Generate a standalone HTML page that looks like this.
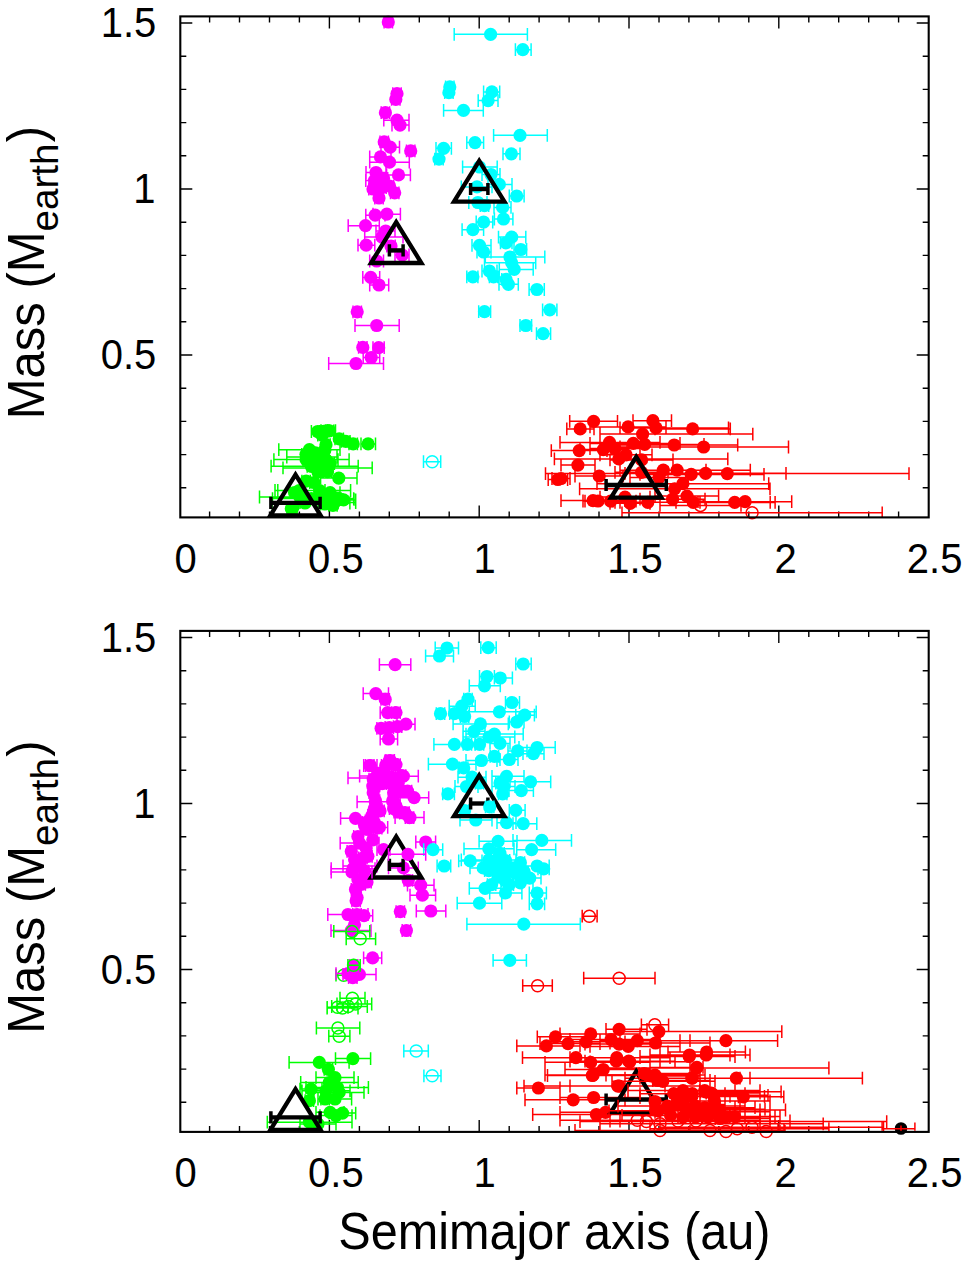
<!DOCTYPE html>
<html><head><meta charset="utf-8"><title>Mass vs semimajor axis</title>
<style>html,body{margin:0;padding:0;background:#fff}svg{display:block}text{font-family:"Liberation Sans",sans-serif;font-size:40px;fill:#000}.al{font-size:49px}</style></head><body>
<svg width="968" height="1268" viewBox="0 0 968 1268">
<rect width="968" height="1268" fill="#fff"/>
<defs><clipPath id="ct"><rect x="180.3" y="16.4" width="748.4" height="501"/></clipPath><clipPath id="cb"><rect x="180.3" y="630.9" width="748.4" height="501"/></clipPath></defs>
<g id="top">
<path d="M209.6 517.4v-6M209.6 16.4v6M239.5 517.4v-6M239.5 16.4v6M269.5 517.4v-6M269.5 16.4v6M299.4 517.4v-6M299.4 16.4v6M329.4 517.4v-12M329.4 16.4v12M359.4 517.4v-6M359.4 16.4v6M389.3 517.4v-6M389.3 16.4v6M419.3 517.4v-6M419.3 16.4v6M449.2 517.4v-6M449.2 16.4v6M479.2 517.4v-12M479.2 16.4v12M509.2 517.4v-6M509.2 16.4v6M539.1 517.4v-6M539.1 16.4v6M569.1 517.4v-6M569.1 16.4v6M599 517.4v-6M599 16.4v6M629 517.4v-12M629 16.4v12M659 517.4v-6M659 16.4v6M688.9 517.4v-6M688.9 16.4v6M718.9 517.4v-6M718.9 16.4v6M748.8 517.4v-6M748.8 16.4v6M778.8 517.4v-12M778.8 16.4v12M808.8 517.4v-6M808.8 16.4v6M838.7 517.4v-6M838.7 16.4v6M868.7 517.4v-6M868.7 16.4v6M898.6 517.4v-6M898.6 16.4v6M180.3 487.8h6M928.7 487.8h-6M180.3 454.6h6M928.7 454.6h-6M180.3 421.4h6M928.7 421.4h-6M180.3 388.2h6M928.7 388.2h-6M180.3 355h12M928.7 355h-12M180.3 321.8h6M928.7 321.8h-6M180.3 288.6h6M928.7 288.6h-6M180.3 255.4h6M928.7 255.4h-6M180.3 222.2h6M928.7 222.2h-6M180.3 189h12M928.7 189h-12M180.3 155.8h6M928.7 155.8h-6M180.3 122.6h6M928.7 122.6h-6M180.3 89.4h6M928.7 89.4h-6M180.3 56.2h6M928.7 56.2h-6M180.3 23h12M928.7 23h-12" stroke="#000" stroke-width="1.4" fill="none"/>
<path clip-path="url(#ct)" d="M311.4 431.5H324M311.4 425.1v12.8M324 425.1v12.8M321 430.7H335.5M321 424.3v12.8M335.5 424.3v12.8M317.8 435H326.2M317.8 428.6v12.8M326.2 428.6v12.8M335 438.9H343.4M335 432.5v12.8M343.4 432.5v12.8M341.6 441.4H350M341.6 435v12.8M350 435v12.8M349 443.9H357.4M349 437.5v12.8M357.4 437.5v12.8M361 443.9H375.5M361 437.5v12.8M375.5 437.5v12.8M321.8 444.7H330.2M321.8 438.3v12.8M330.2 438.3v12.8M278.8 449.7H340M278.8 443.3v12.8M340 443.3v12.8M273.9 459.6H338M273.9 453.2v12.8M338 453.2v12.8M286.8 457H337M286.8 450.6v12.8M337 450.6v12.8M303 459.6H349.1M303 453.2v12.8M349.1 453.2v12.8M271.1 466.2H358.2M271.1 459.8v12.8M358.2 459.8v12.8M283 467.9H372.2M283 461.5v12.8M372.2 461.5v12.8M313.8 472H322.2M313.8 465.6v12.8M322.2 465.6v12.8M320.6 478.1H357M320.6 471.7v12.8M357 471.7v12.8M301.9 481.1H310.3M301.9 474.7v12.8M310.3 474.7v12.8M290.3 492.6H298.7M290.3 486.2v12.8M298.7 486.2v12.8M320 492.6H340M320 486.2v12.8M340 486.2v12.8M315.8 494H324.2M315.8 487.6v12.8M324.2 487.6v12.8M327 499.3H354M327 492.9v12.8M354 492.9v12.8M259.5 497H340M259.5 490.6v12.8M340 490.6v12.8M288.7 507.5H297.1M288.7 501.1v12.8M297.1 501.1v12.8M300 502.6H355.7M300 496.2v12.8M355.7 496.2v12.8M318 503H349.9M318 496.6v12.8M349.9 496.6v12.8M272 503H338M272 496.6v12.8M338 496.6v12.8M311.2 452.9H319.6M311.2 446.5v12.8M319.6 446.5v12.8M309.9 462.3H318.3M309.9 455.9v12.8M318.3 455.9v12.8M323.3 471.7H331.7M323.3 465.3v12.8M331.7 465.3v12.8M318 465H326.4M318 458.6v12.8M326.4 458.6v12.8M326 463.7H334.4M326 457.3v12.8M334.4 457.3v12.8M301.8 454.3H310.2M301.8 447.9v12.8M310.2 447.9v12.8M320.6 450.2H329M320.6 443.8v12.8M329 443.8v12.8M313.9 458.3H322.3M313.9 451.9v12.8M322.3 451.9v12.8M307.2 466.3H315.6M307.2 459.9v12.8M315.6 459.9v12.8M319.3 431.4H327.7M319.3 425v12.8M327.7 425v12.8M325.3 430.8H333.7M325.3 424.4v12.8M333.7 424.4v12.8M275 490.5H325M275 484.1v12.8M325 484.1v12.8M277.8 490.5H350.6M277.8 484.1v12.8M350.6 484.1v12.8M320.6 504H329M320.6 497.6v12.8M329 497.6v12.8M328.7 505.3H337.1M328.7 498.9v12.8M337.1 498.9v12.8M272.5 498.6H353.7M272.5 492.2v12.8M353.7 492.2v12.8M330 499.9H355.7M330 493.5v12.8M355.7 493.5v12.8M309.8 482.5H318.2M309.8 476.1v12.8M318.2 476.1v12.8M287.1 508.7H295.5M287.1 502.3v12.8M295.5 502.3v12.8M332.7 498.6H341.1M332.7 492.2v12.8M341.1 492.2v12.8" fill="none" stroke="#00ff00" stroke-width="1.5"/>
<g fill="#00ff00"><circle cx="317.7" cy="431.5" r="6.6"/><circle cx="327.6" cy="430.7" r="6.6"/><circle cx="322" cy="435" r="6.6"/><circle cx="339.2" cy="438.9" r="6.6"/><circle cx="345.8" cy="441.4" r="6.6"/><circle cx="353.2" cy="443.9" r="6.6"/><circle cx="368.1" cy="443.9" r="6.6"/><circle cx="326" cy="444.7" r="6.6"/><circle cx="309.4" cy="449.7" r="6.6"/><circle cx="306.1" cy="459.6" r="6.6"/><circle cx="312" cy="457" r="6.6"/><circle cx="326" cy="459.6" r="6.6"/><circle cx="316" cy="466.2" r="6.6"/><circle cx="327.6" cy="467.9" r="6.6"/><circle cx="318" cy="472" r="6.6"/><circle cx="338.8" cy="478.1" r="6.6"/><circle cx="306.1" cy="481.1" r="6.6"/><circle cx="294.5" cy="492.6" r="6.6"/><circle cx="330.1" cy="492.6" r="6.6"/><circle cx="320" cy="494" r="6.6"/><circle cx="340.8" cy="499.3" r="6.6"/><circle cx="300" cy="497" r="6.6"/><circle cx="292.9" cy="507.5" r="6.6"/><circle cx="327.6" cy="502.6" r="6.6"/><circle cx="334" cy="503" r="6.6"/><circle cx="305" cy="503" r="6.6"/><circle cx="315.4" cy="452.9" r="6.6"/><circle cx="314.1" cy="462.3" r="6.6"/><circle cx="327.5" cy="471.7" r="6.6"/><circle cx="322.2" cy="465" r="6.6"/><circle cx="330.2" cy="463.7" r="6.6"/><circle cx="306" cy="454.3" r="6.6"/><circle cx="324.8" cy="450.2" r="6.6"/><circle cx="318.1" cy="458.3" r="6.6"/><circle cx="311.4" cy="466.3" r="6.6"/><circle cx="323.5" cy="431.4" r="6.6"/><circle cx="329.5" cy="430.8" r="6.6"/><circle cx="299.3" cy="490.5" r="6.6"/><circle cx="319.5" cy="490.5" r="6.6"/><circle cx="324.8" cy="504" r="6.6"/><circle cx="332.9" cy="505.3" r="6.6"/><circle cx="311.4" cy="498.6" r="6.6"/><circle cx="343.6" cy="499.9" r="6.6"/><circle cx="314" cy="482.5" r="6.6"/><circle cx="291.3" cy="508.7" r="6.6"/><circle cx="336.9" cy="498.6" r="6.6"/></g>
<path clip-path="url(#ct)" d="M384.1 22H392.5M384.1 15.6v12.8M392.5 15.6v12.8M392.8 93.7H401.2M392.8 87.3v12.8M401.2 87.3v12.8M391.6 99.4H400M391.6 93v12.8M400 93v12.8M381.2 112.7H389.6M381.2 106.3v12.8M389.6 106.3v12.8M383.8 120.2H409M383.8 113.8v12.8M409 113.8v12.8M392 125.1H409M392 118.7v12.8M409 118.7v12.8M380 141.9H388.4M380 135.5v12.8M388.4 135.5v12.8M381 147.2H399.5M381 140.8v12.8M399.5 140.8v12.8M406.5 150.9H414.9M406.5 144.5v12.8M414.9 144.5v12.8M369.7 156.9H391M369.7 150.5v12.8M391 150.5v12.8M369.7 162.2H409.3M369.7 155.8v12.8M409.3 155.8v12.8M386.6 174.9H410.4M386.6 168.5v12.8M410.4 168.5v12.8M366 172.5H386M366 166.1v12.8M386 166.1v12.8M365.8 180.5H383M365.8 174.1v12.8M383 174.1v12.8M379.3 178.5H387.7M379.3 172.1v12.8M387.7 172.1v12.8M368.8 189H377.2M368.8 182.6v12.8M377.2 182.6v12.8M377.8 187.5H386.2M377.8 181.1v12.8M386.2 181.1v12.8M385.3 186H393.7M385.3 179.6v12.8M393.7 179.6v12.8M390.5 192.8H398.9M390.5 186.4v12.8M398.9 186.4v12.8M374.8 198H383.2M374.8 191.6v12.8M383.2 191.6v12.8M365.8 215.2H385M365.8 208.8v12.8M385 208.8v12.8M373 214.2H400.4M373 207.8v12.8M400.4 207.8v12.8M348.2 225.7H379.3M348.2 219.3v12.8M379.3 219.3v12.8M376 231H395M376 224.6v12.8M395 224.6v12.8M364.7 237H403M364.7 230.6v12.8M403 230.6v12.8M358 245.2H374.8M358 238.8v12.8M374.8 238.8v12.8M386.8 246H395.2M386.8 239.6v12.8M395.2 239.6v12.8M395 255H409M395 248.6v12.8M409 248.6v12.8M369.7 261H383.5M369.7 254.6v12.8M383.5 254.6v12.8M362.8 277.4H379.7M362.8 271v12.8M379.7 271v12.8M369.7 285H388.7M369.7 278.6v12.8M388.7 278.6v12.8M353 311.8H361.4M353 305.4v12.8M361.4 305.4v12.8M355 325.5H399.2M355 319.1v12.8M399.2 319.1v12.8M358.6 347.4H367M358.6 341v12.8M367 341v12.8M373 347.7H384.2M373 341.3v12.8M384.2 341.3v12.8M363.2 357.5H379.7M363.2 351.1v12.8M379.7 351.1v12.8M328.7 363.5H383.5M328.7 357.1v12.8M383.5 357.1v12.8" fill="none" stroke="#ff00ff" stroke-width="1.5"/>
<g fill="#ff00ff"><circle cx="388.3" cy="22" r="6.6"/><circle cx="397" cy="93.7" r="6.6"/><circle cx="395.8" cy="99.4" r="6.6"/><circle cx="385.4" cy="112.7" r="6.6"/><circle cx="397" cy="120.2" r="6.6"/><circle cx="400" cy="125.1" r="6.6"/><circle cx="384.2" cy="141.9" r="6.6"/><circle cx="390.2" cy="147.2" r="6.6"/><circle cx="410.7" cy="150.9" r="6.6"/><circle cx="380.5" cy="156.9" r="6.6"/><circle cx="389.5" cy="162.2" r="6.6"/><circle cx="398.5" cy="174.9" r="6.6"/><circle cx="376" cy="172.5" r="6.6"/><circle cx="374.5" cy="180.5" r="6.6"/><circle cx="383.5" cy="178.5" r="6.6"/><circle cx="373" cy="189" r="6.6"/><circle cx="382" cy="187.5" r="6.6"/><circle cx="389.5" cy="186" r="6.6"/><circle cx="394.7" cy="192.8" r="6.6"/><circle cx="379" cy="198" r="6.6"/><circle cx="375.2" cy="215.2" r="6.6"/><circle cx="386.8" cy="214.2" r="6.6"/><circle cx="365.5" cy="225.7" r="6.6"/><circle cx="385.7" cy="231" r="6.6"/><circle cx="382" cy="237" r="6.6"/><circle cx="366.2" cy="245.2" r="6.6"/><circle cx="391" cy="246" r="6.6"/><circle cx="402.2" cy="255" r="6.6"/><circle cx="376.7" cy="261" r="6.6"/><circle cx="370.7" cy="277.4" r="6.6"/><circle cx="379" cy="285" r="6.6"/><circle cx="357.2" cy="311.8" r="6.6"/><circle cx="376.7" cy="325.5" r="6.6"/><circle cx="362.8" cy="347.4" r="6.6"/><circle cx="378.7" cy="347.7" r="6.6"/><circle cx="371.2" cy="357.5" r="6.6"/><circle cx="356" cy="363.5" r="6.6"/></g>
<path clip-path="url(#ct)" d="M454.2 34.3H527.4M454.2 27.9v12.8M527.4 27.9v12.8M515.4 49.7H531.1M515.4 43.3v12.8M531.1 43.3v12.8M445.6 86.9H454M445.6 80.5v12.8M454 80.5v12.8M444.7 92.7H453.1M444.7 86.3v12.8M453.1 86.3v12.8M483.6 91.9H499.7M483.6 85.5v12.8M499.7 85.5v12.8M478.2 100.6H498M478.2 94.2v12.8M498 94.2v12.8M443.6 110.4H483.3M443.6 104v12.8M483.3 104v12.8M493.6 135.3H547.3M493.6 128.9v12.8M547.3 128.9v12.8M466.8 142.6H483.6M466.8 136.2v12.8M483.6 136.2v12.8M436 148.3H451.4M436 141.9v12.8M451.4 141.9v12.8M434.8 159.1H443.2M434.8 152.7v12.8M443.2 152.7v12.8M503 153.8H520M503 147.4v12.8M520 147.4v12.8M462.6 167H497.2M462.6 160.6v12.8M497.2 160.6v12.8M482 174.5H500M482 168.1v12.8M500 168.1v12.8M488 184.4H512M488 178v12.8M512 178v12.8M461.3 186.9H492M461.3 180.5v12.8M492 180.5v12.8M509.3 196H524.1M509.3 189.6v12.8M524.1 189.6v12.8M468.8 202.5H487M468.8 196.1v12.8M487 196.1v12.8M480.3 205.7H488.7M480.3 199.3v12.8M488.7 199.3v12.8M494 207.4H511M494 201v12.8M511 201v12.8M476.2 222H492.7M476.2 215.6v12.8M492.7 215.6v12.8M494.4 219H512.9M494.4 212.6v12.8M512.9 212.6v12.8M462.1 229.7H483.6M462.1 223.3v12.8M483.6 223.3v12.8M498.5 237.1H525.8M498.5 230.7v12.8M525.8 230.7v12.8M500.5 242.9H512M500.5 236.5v12.8M512 236.5v12.8M472 245.4H491M472 239v12.8M491 239v12.8M477 252H491M477 245.6v12.8M491 245.6v12.8M514 249.5H526.6M514 243.1v12.8M526.6 243.1v12.8M485.3 257H544.8M485.3 250.6v12.8M544.8 250.6v12.8M484.5 262.8H535.7M484.5 256.4v12.8M535.7 256.4v12.8M499.3 269.4H533.2M499.3 263v12.8M533.2 263v12.8M482 271H497M482 264.6v12.8M497 264.6v12.8M489.4 276.8H497.8M489.4 270.4v12.8M497.8 270.4v12.8M466.8 276.8H477.9M466.8 270.4v12.8M477.9 270.4v12.8M501.8 279.3H510.2M501.8 272.9v12.8M510.2 272.9v12.8M499 284.3H518.3M499 277.9v12.8M518.3 277.9v12.8M529.1 289.5H544.3M529.1 283.1v12.8M544.3 283.1v12.8M478.7 311.7H490.6M478.7 305.3v12.8M490.6 305.3v12.8M542.6 309.8H556.9M542.6 303.4v12.8M556.9 303.4v12.8M520 325.5H531.6M520 319.1v12.8M531.6 319.1v12.8M536.5 333.7H550.6M536.5 327.3v12.8M550.6 327.3v12.8" fill="none" stroke="#00ffff" stroke-width="1.5"/>
<g fill="#00ffff"><circle cx="490.6" cy="34.3" r="6.6"/><circle cx="522.8" cy="49.7" r="6.6"/><circle cx="449.8" cy="86.9" r="6.6"/><circle cx="448.9" cy="92.7" r="6.6"/><circle cx="491.9" cy="91.9" r="6.6"/><circle cx="488.1" cy="100.6" r="6.6"/><circle cx="463.5" cy="110.4" r="6.6"/><circle cx="520" cy="135.3" r="6.6"/><circle cx="475" cy="142.6" r="6.6"/><circle cx="443.6" cy="148.3" r="6.6"/><circle cx="439" cy="159.1" r="6.6"/><circle cx="511.4" cy="153.8" r="6.6"/><circle cx="479.5" cy="167" r="6.6"/><circle cx="491" cy="174.5" r="6.6"/><circle cx="499.3" cy="184.4" r="6.6"/><circle cx="477" cy="186.9" r="6.6"/><circle cx="516.7" cy="196" r="6.6"/><circle cx="477.9" cy="202.5" r="6.6"/><circle cx="484.5" cy="205.7" r="6.6"/><circle cx="502.6" cy="207.4" r="6.6"/><circle cx="483.6" cy="222" r="6.6"/><circle cx="503.5" cy="219" r="6.6"/><circle cx="472.9" cy="229.7" r="6.6"/><circle cx="511.7" cy="237.1" r="6.6"/><circle cx="505.9" cy="242.9" r="6.6"/><circle cx="479.5" cy="245.4" r="6.6"/><circle cx="483.6" cy="252" r="6.6"/><circle cx="520.8" cy="249.5" r="6.6"/><circle cx="510" cy="257" r="6.6"/><circle cx="511.7" cy="262.8" r="6.6"/><circle cx="514.2" cy="269.4" r="6.6"/><circle cx="489.4" cy="271" r="6.6"/><circle cx="493.6" cy="276.8" r="6.6"/><circle cx="472.9" cy="276.8" r="6.6"/><circle cx="506" cy="279.3" r="6.6"/><circle cx="508.4" cy="284.3" r="6.6"/><circle cx="536.9" cy="289.5" r="6.6"/><circle cx="484.5" cy="311.7" r="6.6"/><circle cx="549.8" cy="309.8" r="6.6"/><circle cx="525.8" cy="325.5" r="6.6"/><circle cx="543.1" cy="333.7" r="6.6"/></g>
<path clip-path="url(#ct)" d="M423.5 461.7H440.7M423.5 455.3v12.8M440.7 455.3v12.8" fill="none" stroke="#00ffff" stroke-width="1.5"/>
<g fill="none" stroke="#00ffff" stroke-width="1.5"><circle cx="432.2" cy="461.7" r="6.0"/></g>
<path clip-path="url(#ct)" d="M569.7 421.3H617.5M569.7 414.9v12.8M617.5 414.9v12.8M566.8 428.9H594M566.8 422.5v12.8M594 422.5v12.8M590 426.9H666M590 420.5v12.8M666 420.5v12.8M633 420.7H671.5M633 414.3v12.8M671.5 414.3v12.8M620 427.9H728.5M620 421.5v12.8M728.5 421.5v12.8M655 428.9H730.3M655 422.5v12.8M730.3 422.5v12.8M600 434.1H752.8M600 427.7v12.8M752.8 427.7v12.8M560 442.4H660M560 436v12.8M660 436v12.8M590 443.4H680M590 437v12.8M680 437v12.8M600 444.4H704M600 438v12.8M704 438v12.8M610 445H737.7M610 438.6v12.8M737.7 438.6v12.8M620 447H788.5M620 440.6v12.8M788.5 440.6v12.8M551.3 450.6H607M551.3 444.2v12.8M607 444.2v12.8M580 449.6H627M580 443.2v12.8M627 443.2v12.8M590 448.6H640M590 442.2v12.8M640 442.2v12.8M554.4 458.9H727.8M554.4 452.5v12.8M727.8 452.5v12.8M600 454.8H652M600 448.4v12.8M652 448.4v12.8M561 465.1H595M561 458.7v12.8M595 458.7v12.8M610 459.9H673M610 453.5v12.8M673 453.5v12.8M575 476H623M575 469.6v12.8M623 469.6v12.8M620 470.2H706M620 463.8v12.8M706 463.8v12.8M630 470.2H750.3M630 463.8v12.8M750.3 463.8v12.8M640 474.4H764M640 468v12.8M764 468v12.8M625 473.3H786M625 466.9v12.8M786 466.9v12.8M545.5 473.6H909M545.5 467.2v12.8M909 467.2v12.8M548.2 479.5H567.6M548.2 473.1v12.8M567.6 473.1v12.8M552 478.5H570M552 472.1v12.8M570 472.1v12.8M615 472.3H668M615 465.9v12.8M668 465.9v12.8M630 477.5H688M630 471.1v12.8M688 471.1v12.8M597 483.7H768.7M597 477.3v12.8M768.7 477.3v12.8M579.6 488.8H770M579.6 482.4v12.8M770 482.4v12.8M655 496.1H718.6M655 489.7v12.8M718.6 489.7v12.8M640 499.2H705M640 492.8v12.8M705 492.8v12.8M561 500.6H625M561 494.2v12.8M625 494.2v12.8M583 501H613M583 494.6v12.8M613 494.6v12.8M585 501.2H636M585 494.8v12.8M636 494.8v12.8M600 497.1H650M600 490.7v12.8M650 490.7v12.8M610 503.3H650M610 496.9v12.8M650 496.9v12.8M620 502.3H676M620 495.9v12.8M676 495.9v12.8M615 502.3H770.2M615 495.9v12.8M770.2 495.9v12.8M700 502.4H775.1M700 496v12.8M775.1 496v12.8M698 501.7H791.7M698 495.3v12.8M791.7 495.3v12.8" fill="none" stroke="#ff0000" stroke-width="1.5"/>
<g fill="#ff0000"><circle cx="593.6" cy="421.3" r="6.6"/><circle cx="580.2" cy="428.9" r="6.6"/><circle cx="628.1" cy="426.9" r="6.6"/><circle cx="652.9" cy="420.7" r="6.6"/><circle cx="656" cy="427.9" r="6.6"/><circle cx="692.6" cy="428.9" r="6.6"/><circle cx="642.6" cy="434.1" r="6.6"/><circle cx="609.5" cy="442.4" r="6.6"/><circle cx="633.3" cy="443.4" r="6.6"/><circle cx="644.7" cy="444.4" r="6.6"/><circle cx="674.2" cy="445" r="6.6"/><circle cx="703.6" cy="447" r="6.6"/><circle cx="579.2" cy="450.6" r="6.6"/><circle cx="603.3" cy="449.6" r="6.6"/><circle cx="614.7" cy="448.6" r="6.6"/><circle cx="618.8" cy="458.9" r="6.6"/><circle cx="626.1" cy="454.8" r="6.6"/><circle cx="577.9" cy="465.1" r="6.6"/><circle cx="641.6" cy="459.9" r="6.6"/><circle cx="599.2" cy="476" r="6.6"/><circle cx="663.3" cy="470.2" r="6.6"/><circle cx="677.1" cy="470.2" r="6.6"/><circle cx="691.2" cy="474.4" r="6.6"/><circle cx="705.6" cy="473.3" r="6.6"/><circle cx="727.3" cy="473.6" r="6.6"/><circle cx="557.9" cy="479.5" r="6.6"/><circle cx="561" cy="478.5" r="6.6"/><circle cx="641.6" cy="472.3" r="6.6"/><circle cx="659.1" cy="477.5" r="6.6"/><circle cx="682.9" cy="483.7" r="6.6"/><circle cx="674.6" cy="488.8" r="6.6"/><circle cx="687" cy="496.1" r="6.6"/><circle cx="672.6" cy="499.2" r="6.6"/><circle cx="593" cy="500.6" r="6.6"/><circle cx="598" cy="501" r="6.6"/><circle cx="610.6" cy="501.2" r="6.6"/><circle cx="625" cy="497.1" r="6.6"/><circle cx="630.2" cy="503.3" r="6.6"/><circle cx="647.8" cy="502.3" r="6.6"/><circle cx="693.2" cy="502.3" r="6.6"/><circle cx="734.7" cy="502.4" r="6.6"/><circle cx="745.1" cy="501.7" r="6.6"/></g>
<path clip-path="url(#ct)" d="M660 505.4H741M660 499v12.8M741 499v12.8M622 512.8H882.2M622 506.4v12.8M882.2 506.4v12.8" fill="none" stroke="#ff0000" stroke-width="1.5"/>
<g fill="none" stroke="#ff0000" stroke-width="1.5"><circle cx="700.5" cy="505.4" r="6.0"/><circle cx="752.1" cy="512.8" r="6.0"/></g>
<polygon points="295.5,474.7 270.3,515.5 320.7,515.5" fill="none" stroke="#000" stroke-width="4.3" stroke-linejoin="miter"/><path d="M270.9 502.9H320.1" fill="none" stroke="#000" stroke-width="4.4"/><path d="M270.9 496.8v12.2M320.1 496.8v12.2" fill="none" stroke="#000" stroke-width="3.5"/>
<polygon points="396.2,222.2 371,263 421.4,263" fill="none" stroke="#000" stroke-width="4.3" stroke-linejoin="miter"/><path d="M389.4 250.4H403.1" fill="none" stroke="#000" stroke-width="4.4"/><path d="M389.4 244.3v12.2M403.1 244.3v12.2" fill="none" stroke="#000" stroke-width="3.5"/>
<polygon points="479.2,160.8 454,201.6 504.4,201.6" fill="none" stroke="#000" stroke-width="4.3" stroke-linejoin="miter"/><path d="M470.6 189H487.9" fill="none" stroke="#000" stroke-width="4.4"/><path d="M470.6 182.9v12.2M487.9 182.9v12.2" fill="none" stroke="#000" stroke-width="3.5"/>
<polygon points="636.2,456.8 611,497.6 661.4,497.6" fill="none" stroke="#000" stroke-width="4.3" stroke-linejoin="miter"/><path d="M606.1 485H666.3" fill="none" stroke="#000" stroke-width="4.4"/><path d="M606.1 478.9v12.2M666.3 478.9v12.2" fill="none" stroke="#000" stroke-width="3.5"/>
<rect x="180.3" y="16.4" width="748.4" height="501" fill="none" stroke="#000" stroke-width="2.1"/>
<text transform="translate(185.6 572.8) scale(1 1.06)" text-anchor="middle">0</text>
<text transform="translate(335.9 572.8) scale(1 1.06)" text-anchor="middle">0.5</text>
<text transform="translate(484.7 572.8) scale(1 1.06)" text-anchor="middle">1</text>
<text transform="translate(635 572.8) scale(1 1.06)" text-anchor="middle">1.5</text>
<text transform="translate(785.6 572.8) scale(1 1.06)" text-anchor="middle">2</text>
<text transform="translate(934.6 572.8) scale(1 1.06)" text-anchor="middle">2.5</text>
<text transform="translate(156.3 369.1) scale(1 1.06)" text-anchor="end">0.5</text>
<text transform="translate(155.5 203.1) scale(1 1.06)" text-anchor="end">1</text>
<text transform="translate(156.3 37.1) scale(1 1.06)" text-anchor="end">1.5</text>
<g transform="translate(43.9 419.2) rotate(-90)"><text class="al" transform="scale(1 1.06)">Mass (M</text><text x="187.8" y="14.5" style="font-size:38.5px">earth</text><text class="al" x="277" transform="scale(1 1.06)">)</text></g>
</g>
<g id="bottom">
<path d="M209.6 1131.9v-6M209.6 630.9v6M239.5 1131.9v-6M239.5 630.9v6M269.5 1131.9v-6M269.5 630.9v6M299.4 1131.9v-6M299.4 630.9v6M329.4 1131.9v-12M329.4 630.9v12M359.4 1131.9v-6M359.4 630.9v6M389.3 1131.9v-6M389.3 630.9v6M419.3 1131.9v-6M419.3 630.9v6M449.2 1131.9v-6M449.2 630.9v6M479.2 1131.9v-12M479.2 630.9v12M509.2 1131.9v-6M509.2 630.9v6M539.1 1131.9v-6M539.1 630.9v6M569.1 1131.9v-6M569.1 630.9v6M599 1131.9v-6M599 630.9v6M629 1131.9v-12M629 630.9v12M659 1131.9v-6M659 630.9v6M688.9 1131.9v-6M688.9 630.9v6M718.9 1131.9v-6M718.9 630.9v6M748.8 1131.9v-6M748.8 630.9v6M778.8 1131.9v-12M778.8 630.9v12M808.8 1131.9v-6M808.8 630.9v6M838.7 1131.9v-6M838.7 630.9v6M868.7 1131.9v-6M868.7 630.9v6M898.6 1131.9v-6M898.6 630.9v6M180.3 1102.3h6M928.7 1102.3h-6M180.3 1069.1h6M928.7 1069.1h-6M180.3 1035.9h6M928.7 1035.9h-6M180.3 1002.7h6M928.7 1002.7h-6M180.3 969.5h12M928.7 969.5h-12M180.3 936.3h6M928.7 936.3h-6M180.3 903.1h6M928.7 903.1h-6M180.3 869.9h6M928.7 869.9h-6M180.3 836.7h6M928.7 836.7h-6M180.3 803.5h12M928.7 803.5h-12M180.3 770.3h6M928.7 770.3h-6M180.3 737.1h6M928.7 737.1h-6M180.3 703.9h6M928.7 703.9h-6M180.3 670.7h6M928.7 670.7h-6M180.3 637.5h12M928.7 637.5h-12" stroke="#000" stroke-width="1.4" fill="none"/>
<path clip-path="url(#cb)" d="M336 975.2H351M336 968.8v12.8M351 968.8v12.8" fill="none" stroke="#00ff00" stroke-width="1.5"/>
<g fill="none" stroke="#00ff00" stroke-width="1.5"><circle cx="343.7" cy="975.2" r="6.0"/></g>
<path clip-path="url(#cb)" d="M335.5 1058.6H370.6M335.5 1052.2v12.8M370.6 1052.2v12.8M289.1 1062.4H349.1M289.1 1056v12.8M349.1 1056v12.8M324.2 1069.3H332.6M324.2 1062.9v12.8M332.6 1062.9v12.8M316 1077.6H354M316 1071.2v12.8M354 1071.2v12.8M300.7 1082.5H358.2M300.7 1076.1v12.8M358.2 1076.1v12.8M306 1087.5H368.4M306 1081.1v12.8M368.4 1081.1v12.8M300 1089.1H322M300 1082.7v12.8M322 1082.7v12.8M302 1090.8H350M302 1084.4v12.8M350 1084.4v12.8M314 1092.4H364M314 1086v12.8M364 1086v12.8M318 1099H351.6M318 1092.6v12.8M351.6 1092.6v12.8M320.9 1099H329.3M320.9 1092.6v12.8M329.3 1092.6v12.8M305.2 1100.7H313.6M305.2 1094.3v12.8M313.6 1094.3v12.8M316 1112.3H344M316 1105.9v12.8M344 1105.9v12.8M329 1113.1H355.7M329 1106.7v12.8M355.7 1106.7v12.8M320 1115.6H352M320 1109.2v12.8M352 1109.2v12.8M267.3 1122.2H352M267.3 1115.8v12.8M352 1115.8v12.8M300 1124H336M300 1117.6v12.8M336 1117.6v12.8" fill="none" stroke="#00ff00" stroke-width="1.5"/>
<g fill="#00ff00"><circle cx="352.9" cy="1058.6" r="6.6"/><circle cx="319.3" cy="1062.4" r="6.6"/><circle cx="328.4" cy="1069.3" r="6.6"/><circle cx="335" cy="1077.6" r="6.6"/><circle cx="329.3" cy="1082.5" r="6.6"/><circle cx="337.5" cy="1087.5" r="6.6"/><circle cx="311.1" cy="1089.1" r="6.6"/><circle cx="326" cy="1090.8" r="6.6"/><circle cx="339.2" cy="1092.4" r="6.6"/><circle cx="335" cy="1099" r="6.6"/><circle cx="325.1" cy="1099" r="6.6"/><circle cx="309.4" cy="1100.7" r="6.6"/><circle cx="330.1" cy="1112.3" r="6.6"/><circle cx="342.5" cy="1113.1" r="6.6"/><circle cx="335.9" cy="1115.6" r="6.6"/><circle cx="309.4" cy="1122.2" r="6.6"/><circle cx="318" cy="1124" r="6.6"/></g>
<path clip-path="url(#cb)" d="M379.4 664.7H410.8M379.4 658.3v12.8M410.8 658.3v12.8M363.2 693.6H388.5M363.2 687.2v12.8M388.5 687.2v12.8M381 699.4H389.4M381 693v12.8M389.4 693v12.8M380.2 712.6H395M380.2 706.2v12.8M395 706.2v12.8M391.8 712.6H400.2M391.8 706.2v12.8M400.2 706.2v12.8M397 724.2H415M397 717.8v12.8M415 717.8v12.8M376.9 728.3H385.3M376.9 721.9v12.8M385.3 721.9v12.8M385.1 727.5H393.5M385.1 721.1v12.8M393.5 721.1v12.8M393.4 726.7H401.8M393.4 720.3v12.8M401.8 720.3v12.8M380.2 739H397.6M380.2 732.6v12.8M397.6 732.6v12.8M386 760.5H394.4M386 754.1v12.8M394.4 754.1v12.8M363.7 765.5H377M363.7 759.1v12.8M377 759.1v12.8M391.8 764.6H400.2M391.8 758.2v12.8M400.2 758.2v12.8M348 777.9H404M348 771.5v12.8M404 771.5v12.8M359.6 776H402M359.6 769.6v12.8M402 769.6v12.8M389 776.2H418.3M389 769.8v12.8M418.3 769.8v12.8M376.9 772.9H385.3M376.9 766.5v12.8M385.3 766.5v12.8M385.1 782.8H393.5M385.1 776.4v12.8M393.5 776.4v12.8M368.6 786.1H377M368.6 779.7v12.8M377 779.7v12.8M393.4 789.4H401.8M393.4 783v12.8M401.8 783v12.8M403.3 791.1H411.7M403.3 784.7v12.8M411.7 784.7v12.8M400 797.7H428.7M400 791.3v12.8M428.7 791.3v12.8M357.1 801.8H393M357.1 795.4v12.8M393 795.4v12.8M388.4 801H396.8M388.4 794.6v12.8M396.8 794.6v12.8M391.8 806H400.2M391.8 799.6v12.8M400.2 799.6v12.8M373.6 809.3H382M373.6 802.9v12.8M382 802.9v12.8M400.8 812.6H409.2M400.8 806.2v12.8M409.2 806.2v12.8M395.1 817.5H424M395.1 811.1v12.8M424 811.1v12.8M340.6 818.3H370M340.6 811.9v12.8M370 811.9v12.8M365.3 820.8H373.7M365.3 814.4v12.8M373.7 814.4v12.8M371 827.4H387.7M371 821v12.8M387.7 821v12.8M362 829.1H370.4M362 822.7v12.8M370.4 822.7v12.8M360.3 824.9H368.7M360.3 818.5v12.8M368.7 818.5v12.8M415.8 842H435.6M415.8 835.6v12.8M435.6 835.6v12.8M340.2 843.1H379M340.2 836.7v12.8M379 836.7v12.8M347.1 851.4H355.5M347.1 845v12.8M355.5 845v12.8M362 848H370.4M362 841.6v12.8M370.4 841.6v12.8M358.7 858H367.1M358.7 851.6v12.8M367.1 851.6v12.8M368.6 839.8H377M368.6 833.4v12.8M377 833.4v12.8M377 849.7H390M377 843.3v12.8M390 843.3v12.8M331.2 868.7H375M331.2 862.3v12.8M375 862.3v12.8M343 866H377M343 859.6v12.8M377 859.6v12.8M388.5 867.9H418.3M388.5 861.5v12.8M418.3 861.5v12.8M353.7 879.5H362.1M353.7 873.1v12.8M362.1 873.1v12.8M362.8 882H371.2M362.8 875.6v12.8M371.2 875.6v12.8M404.1 880.3H412.5M404.1 873.9v12.8M412.5 873.9v12.8M407.5 885.2H434M407.5 878.8v12.8M434 878.8v12.8M410 895.2H435.6M410 888.8v12.8M435.6 888.8v12.8M351.3 889.4H359.7M351.3 883v12.8M359.7 883v12.8M352.9 897.6H361.3M352.9 891.2v12.8M361.3 891.2v12.8M351.9 900.8H360.3M351.9 894.4v12.8M360.3 894.4v12.8M396.1 911.6H404.5M396.1 905.2v12.8M404.5 905.2v12.8M416.3 911H445.8M416.3 904.6v12.8M445.8 904.6v12.8M327.8 914.5H368M327.8 908.1v12.8M368 908.1v12.8M352.8 914.5H361.2M352.8 908.1v12.8M361.2 908.1v12.8M355 915.7H372.7M355 909.3v12.8M372.7 909.3v12.8M350.3 924.8H358.7M350.3 918.4v12.8M358.7 918.4v12.8M331 930.6H371M331 924.2v12.8M371 924.2v12.8M402.2 930.5H410.6M402.2 924.1v12.8M410.6 924.1v12.8M363.6 957.9H381.7M363.6 951.5v12.8M381.7 951.5v12.8M349.4 965.3H357.8M349.4 958.9v12.8M357.8 958.9v12.8M336 973.6H360M336 967.2v12.8M360 967.2v12.8M343 974.4H376M343 968v12.8M376 968v12.8M348.6 977.7H357M348.6 971.3v12.8M357 971.3v12.8M384.9 760.9H393.3M384.9 754.5v12.8M393.3 754.5v12.8M389.4 764.3H397.8M389.4 757.9v12.8M397.8 757.9v12.8M381.5 765.5H389.9M381.5 759.1v12.8M389.9 759.1v12.8M365.6 765.5H374M365.6 759.1v12.8M374 759.1v12.8M373.5 773.4H381.9M373.5 767v12.8M381.9 767v12.8M380.3 775.7H388.7M380.3 769.3v12.8M388.7 769.3v12.8M387.2 776.8H395.6M387.2 770.4v12.8M395.6 770.4v12.8M397.4 775.7H405.8M397.4 769.3v12.8M405.8 769.3v12.8M369 779.1H377.4M369 772.7v12.8M377.4 772.7v12.8M371.3 785.9H379.7M371.3 779.5v12.8M379.7 779.5v12.8M378.1 783.6H386.5M378.1 777.2v12.8M386.5 777.2v12.8M389.4 784.8H397.8M389.4 778.4v12.8M397.8 778.4v12.8M394 785.9H402.4M394 779.5v12.8M402.4 779.5v12.8M369 792.7H377.4M369 786.3v12.8M377.4 786.3v12.8M389.4 792.7H397.8M389.4 786.3v12.8M397.8 786.3v12.8M396.3 791.6H404.7M396.3 785.2v12.8M404.7 785.2v12.8M403.1 791.6H411.5M403.1 785.2v12.8M411.5 785.2v12.8M371.3 800.7H379.7M371.3 794.3v12.8M379.7 794.3v12.8M389.4 800.7H397.8M389.4 794.3v12.8M397.8 794.3v12.8M370.1 808.6H378.5M370.1 802.2v12.8M378.5 802.2v12.8M375.8 810.9H384.2M375.8 804.5v12.8M384.2 804.5v12.8M389.4 808.6H397.8M389.4 802.2v12.8M397.8 802.2v12.8M394 812H402.4M394 805.6v12.8M402.4 805.6v12.8M367.8 815.5H376.2M367.8 809.1v12.8M376.2 809.1v12.8M399.7 813.2H408.1M399.7 806.8v12.8M408.1 806.8v12.8M405.3 817.7H413.7M405.3 811.3v12.8M413.7 811.3v12.8M362.2 822.3H370.6M362.2 815.9v12.8M370.6 815.9v12.8M370.1 822.3H378.5M370.1 815.9v12.8M378.5 815.9v12.8M373.5 828H381.9M373.5 821.6v12.8M381.9 821.6v12.8M363.3 829.1H371.7M363.3 822.7v12.8M371.7 822.7v12.8M353.7 836.5H362.1M353.7 830.1v12.8M362.1 830.1v12.8M363.7 856.3H372.1M363.7 849.9v12.8M372.1 849.9v12.8M350.4 859.6H358.8M350.4 853.2v12.8M358.8 853.2v12.8M355.4 864.6H363.8M355.4 858.2v12.8M363.8 858.2v12.8M360.3 871.2H368.7M360.3 864.8v12.8M368.7 864.8v12.8M357 884.4H365.4M357 878v12.8M365.4 878v12.8" fill="none" stroke="#ff00ff" stroke-width="1.5"/>
<g fill="#ff00ff"><circle cx="395.1" cy="664.7" r="6.6"/><circle cx="375.8" cy="693.6" r="6.6"/><circle cx="385.2" cy="699.4" r="6.6"/><circle cx="387.7" cy="712.6" r="6.6"/><circle cx="396" cy="712.6" r="6.6"/><circle cx="405.9" cy="724.2" r="6.6"/><circle cx="381.1" cy="728.3" r="6.6"/><circle cx="389.3" cy="727.5" r="6.6"/><circle cx="397.6" cy="726.7" r="6.6"/><circle cx="388.5" cy="739" r="6.6"/><circle cx="390.2" cy="760.5" r="6.6"/><circle cx="370.3" cy="765.5" r="6.6"/><circle cx="396" cy="764.6" r="6.6"/><circle cx="376.1" cy="777.9" r="6.6"/><circle cx="381" cy="776" r="6.6"/><circle cx="403.4" cy="776.2" r="6.6"/><circle cx="381.1" cy="772.9" r="6.6"/><circle cx="389.3" cy="782.8" r="6.6"/><circle cx="372.8" cy="786.1" r="6.6"/><circle cx="397.6" cy="789.4" r="6.6"/><circle cx="407.5" cy="791.1" r="6.6"/><circle cx="414.1" cy="797.7" r="6.6"/><circle cx="375.3" cy="801.8" r="6.6"/><circle cx="392.6" cy="801" r="6.6"/><circle cx="396" cy="806" r="6.6"/><circle cx="377.8" cy="809.3" r="6.6"/><circle cx="405" cy="812.6" r="6.6"/><circle cx="410" cy="817.5" r="6.6"/><circle cx="355.5" cy="818.3" r="6.6"/><circle cx="369.5" cy="820.8" r="6.6"/><circle cx="379.4" cy="827.4" r="6.6"/><circle cx="366.2" cy="829.1" r="6.6"/><circle cx="364.5" cy="824.9" r="6.6"/><circle cx="425.7" cy="842" r="6.6"/><circle cx="359.6" cy="843.1" r="6.6"/><circle cx="351.3" cy="851.4" r="6.6"/><circle cx="366.2" cy="848" r="6.6"/><circle cx="362.9" cy="858" r="6.6"/><circle cx="372.8" cy="839.8" r="6.6"/><circle cx="383.6" cy="849.7" r="6.6"/><circle cx="353" cy="868.7" r="6.6"/><circle cx="360" cy="866" r="6.6"/><circle cx="403.4" cy="867.9" r="6.6"/><circle cx="357.9" cy="879.5" r="6.6"/><circle cx="367" cy="882" r="6.6"/><circle cx="408.3" cy="880.3" r="6.6"/><circle cx="420.7" cy="885.2" r="6.6"/><circle cx="422.4" cy="895.2" r="6.6"/><circle cx="355.5" cy="889.4" r="6.6"/><circle cx="357.1" cy="897.6" r="6.6"/><circle cx="356.1" cy="900.8" r="6.6"/><circle cx="400.3" cy="911.6" r="6.6"/><circle cx="430.8" cy="911" r="6.6"/><circle cx="348" cy="914.5" r="6.6"/><circle cx="357" cy="914.5" r="6.6"/><circle cx="364" cy="915.7" r="6.6"/><circle cx="354.5" cy="924.8" r="6.6"/><circle cx="351.2" cy="930.6" r="6.6"/><circle cx="406.4" cy="930.5" r="6.6"/><circle cx="372.6" cy="957.9" r="6.6"/><circle cx="353.6" cy="965.3" r="6.6"/><circle cx="347.9" cy="973.6" r="6.6"/><circle cx="359.4" cy="974.4" r="6.6"/><circle cx="352.8" cy="977.7" r="6.6"/><circle cx="389.1" cy="760.9" r="6.6"/><circle cx="393.6" cy="764.3" r="6.6"/><circle cx="385.7" cy="765.5" r="6.6"/><circle cx="369.8" cy="765.5" r="6.6"/><circle cx="377.7" cy="773.4" r="6.6"/><circle cx="384.5" cy="775.7" r="6.6"/><circle cx="391.4" cy="776.8" r="6.6"/><circle cx="401.6" cy="775.7" r="6.6"/><circle cx="373.2" cy="779.1" r="6.6"/><circle cx="375.5" cy="785.9" r="6.6"/><circle cx="382.3" cy="783.6" r="6.6"/><circle cx="393.6" cy="784.8" r="6.6"/><circle cx="398.2" cy="785.9" r="6.6"/><circle cx="373.2" cy="792.7" r="6.6"/><circle cx="393.6" cy="792.7" r="6.6"/><circle cx="400.5" cy="791.6" r="6.6"/><circle cx="407.3" cy="791.6" r="6.6"/><circle cx="375.5" cy="800.7" r="6.6"/><circle cx="393.6" cy="800.7" r="6.6"/><circle cx="374.3" cy="808.6" r="6.6"/><circle cx="380" cy="810.9" r="6.6"/><circle cx="393.6" cy="808.6" r="6.6"/><circle cx="398.2" cy="812" r="6.6"/><circle cx="372" cy="815.5" r="6.6"/><circle cx="403.9" cy="813.2" r="6.6"/><circle cx="409.5" cy="817.7" r="6.6"/><circle cx="366.4" cy="822.3" r="6.6"/><circle cx="374.3" cy="822.3" r="6.6"/><circle cx="377.7" cy="828" r="6.6"/><circle cx="367.5" cy="829.1" r="6.6"/><circle cx="357.9" cy="836.5" r="6.6"/><circle cx="367.9" cy="856.3" r="6.6"/><circle cx="354.6" cy="859.6" r="6.6"/><circle cx="359.6" cy="864.6" r="6.6"/><circle cx="364.5" cy="871.2" r="6.6"/><circle cx="361.2" cy="884.4" r="6.6"/></g>
<path clip-path="url(#cb)" d="M333.8 931.4H369.8M333.8 925v12.8M369.8 925v12.8M346.2 938.8H375.6M346.2 932.4v12.8M375.6 932.4v12.8M347.9 965.3H360.2M347.9 958.9v12.8M360.2 958.9v12.8M340 998.2H365M340 991.8v12.8M365 991.8v12.8M337 1004H371.7M337 997.6v12.8M371.7 997.6v12.8M331.7 1006.5H367.3M331.7 1000.1v12.8M367.3 1000.1v12.8M327.1 1008.1H358M327.1 1001.7v12.8M358 1001.7v12.8M327.2 1007.3H348M327.2 1000.9v12.8M348 1000.9v12.8M316.4 1028H359.8M316.4 1021.6v12.8M359.8 1021.6v12.8M328.8 1036.2H349.9M328.8 1029.8v12.8M349.9 1029.8v12.8" fill="none" stroke="#00ff00" stroke-width="1.5"/>
<g fill="none" stroke="#00ff00" stroke-width="1.5"><circle cx="352" cy="931.4" r="6.0"/><circle cx="360.2" cy="938.8" r="6.0"/><circle cx="353.6" cy="965.3" r="6.0"/><circle cx="352.4" cy="998.2" r="6.0"/><circle cx="355.7" cy="1004" r="6.0"/><circle cx="348.3" cy="1006.5" r="6.0"/><circle cx="342.5" cy="1008.1" r="6.0"/><circle cx="337.5" cy="1007.3" r="6.0"/><circle cx="337.9" cy="1028" r="6.0"/><circle cx="339.2" cy="1036.2" r="6.0"/></g>
<path clip-path="url(#cb)" d="M435.2 648H458.5M435.2 641.6v12.8M458.5 641.6v12.8M425.6 656H453.5M425.6 649.6v12.8M453.5 649.6v12.8M480.8 647.7H496.2M480.8 641.3v12.8M496.2 641.3v12.8M515.8 664H531.2M515.8 657.6v12.8M531.2 657.6v12.8M479.5 676.5H494.4M479.5 670.1v12.8M494.4 670.1v12.8M494.4 678H512.4M494.4 671.6v12.8M512.4 671.6v12.8M469.3 685.8H500.3M469.3 679.4v12.8M500.3 679.4v12.8M463.8 699.2H472.2M463.8 692.8v12.8M472.2 692.8v12.8M505.5 702.5H519.5M505.5 696.1v12.8M519.5 696.1v12.8M449.2 706.2H475.2M449.2 699.8v12.8M475.2 699.8v12.8M436.3 713.7H444.7M436.3 707.3v12.8M444.7 707.3v12.8M449.7 713.7H460M449.7 707.3v12.8M460 707.3v12.8M460.4 716.5H468.8M460.4 710.1v12.8M468.8 710.1v12.8M469.3 711.8H536.2M469.3 705.4v12.8M536.2 705.4v12.8M515.8 715.2H534.4M515.8 708.8v12.8M534.4 708.8v12.8M509.3 722H524M509.3 715.6v12.8M524 715.6v12.8M453.1 723.9H508.3M453.1 717.5v12.8M508.3 717.5v12.8M463.1 731.3H485M463.1 724.9v12.8M485 724.9v12.8M466 734.1H523.2M466 727.7v12.8M523.2 727.7v12.8M463 737H514.8M463 730.6v12.8M514.8 730.6v12.8M433.9 744.4H475M433.9 738v12.8M475 738v12.8M463.2 744.4H471.6M463.2 738v12.8M471.6 738v12.8M475.3 744.4H483.7M475.3 738v12.8M483.7 738v12.8M490 743.4H510M490 737v12.8M510 737v12.8M519 747.5H555.2M519 741.1v12.8M555.2 741.1v12.8M508 750.9H527M508 744.5v12.8M527 744.5v12.8M490.2 756.4H498.6M490.2 750v12.8M498.6 750v12.8M523 753.7H544M523 747.3v12.8M544 747.3v12.8M466 760.5H497M466 754.1v12.8M497 754.1v12.8M500 759.5H518M500 753.1v12.8M518 753.1v12.8M428.4 764.2H476M428.4 757.8v12.8M476 757.8v12.8M459.5 767.9H467.9M459.5 761.5v12.8M467.9 761.5v12.8M492 776.3H524M492 769.9v12.8M524 769.9v12.8M458 777.2H486M458 770.8v12.8M486 770.8v12.8M510 781.8H550.7M510 775.4v12.8M550.7 775.4v12.8M455 786.5H478M455 780.1v12.8M478 780.1v12.8M492 786.5H515M492 780.1v12.8M515 780.1v12.8M509 790.6H533.4M509 784.2v12.8M533.4 784.2v12.8M442.7 793.9H454.4M442.7 787.5v12.8M454.4 787.5v12.8M498.5 793.9H506.9M498.5 787.5v12.8M506.9 787.5v12.8M509.3 810.3H525.1M509.3 803.9v12.8M525.1 803.9v12.8M460.4 810.7H468.8M460.4 804.3v12.8M468.8 804.3v12.8M460 820H492M460 813.6v12.8M492 813.6v12.8M497 822.7H516M497 816.3v12.8M516 816.3v12.8M513 823.7H536.8M513 817.3v12.8M536.8 817.3v12.8M513 840.4H571.5M513 834v12.8M571.5 834v12.8M479.1 841.3H517M479.1 834.9v12.8M517 834.9v12.8M423.7 849.7H442.7M423.7 843.3v12.8M442.7 843.3v12.8M464 848.8H514M464 842.4v12.8M514 842.4v12.8M516.7 849.7H555.7M516.7 843.3v12.8M555.7 843.3v12.8M495.8 853.4H504.2M495.8 847v12.8M504.2 847v12.8M458.7 860.9H482M458.7 854.5v12.8M482 854.5v12.8M461.3 859.9H516M461.3 853.5v12.8M516 853.5v12.8M437.1 866H450.7M437.1 859.6v12.8M450.7 859.6v12.8M516.2 862.7H524.6M516.2 856.3v12.8M524.6 856.3v12.8M525 866H549.2M525 859.6v12.8M549.2 859.6v12.8M538 868.8H549.2M538 862.4v12.8M549.2 862.4v12.8M501.3 860.5H509.7M501.3 854.1v12.8M509.7 854.1v12.8M470 867.9H497M470 861.5v12.8M497 861.5v12.8M484.6 870.7H493M484.6 864.3v12.8M493 864.3v12.8M503.2 871.6H511.6M503.2 865.2v12.8M511.6 865.2v12.8M512.5 873.5H520.9M512.5 867.1v12.8M520.9 867.1v12.8M518 878.1H541M518 871.7v12.8M541 871.7v12.8M501.3 880.9H509.7M501.3 874.5v12.8M509.7 874.5v12.8M508 882.8H533M508 876.4v12.8M533 876.4v12.8M487.4 884.6H495.8M487.4 878.2v12.8M495.8 878.2v12.8M469.3 888.3H501M469.3 881.9v12.8M501 881.9v12.8M489.7 893H521.9M489.7 886.6v12.8M521.9 886.6v12.8M529.3 893H546.4M529.3 886.6v12.8M546.4 886.6v12.8M457.2 903.2H501.8M457.2 896.8v12.8M501.8 896.8v12.8M529.3 903.8H544.6M529.3 897.4v12.8M544.6 897.4v12.8M466.9 924.2H580.3M466.9 917.8v12.8M580.3 917.8v12.8M493.1 960.3H526.4M493.1 953.9v12.8M526.4 953.9v12.8M475.3 783H483.7M475.3 776.6v12.8M483.7 776.6v12.8M495.8 783H504.2M495.8 776.6v12.8M504.2 776.6v12.8M493.9 858.6H502.3M493.9 852.2v12.8M502.3 852.2v12.8M497.6 866H506M497.6 859.6v12.8M506 859.6v12.8M508.8 867.9H517.2M508.8 861.5v12.8M517.2 861.5v12.8M519.9 871.6H528.3M519.9 865.2v12.8M528.3 865.2v12.8M493.9 877.2H502.3M493.9 870.8v12.8M502.3 870.8v12.8M505.1 884.6H513.5M505.1 878.2v12.8M513.5 878.2v12.8M490.2 869.8H498.6M490.2 863.4v12.8M498.6 863.4v12.8" fill="none" stroke="#00ffff" stroke-width="1.5"/>
<g fill="#00ffff"><circle cx="447" cy="648" r="6.6"/><circle cx="439.5" cy="656" r="6.6"/><circle cx="488.2" cy="647.7" r="6.6"/><circle cx="523.2" cy="664" r="6.6"/><circle cx="486.9" cy="676.5" r="6.6"/><circle cx="500.3" cy="678" r="6.6"/><circle cx="484.5" cy="685.8" r="6.6"/><circle cx="468" cy="699.2" r="6.6"/><circle cx="512" cy="702.5" r="6.6"/><circle cx="461.8" cy="706.2" r="6.6"/><circle cx="440.5" cy="713.7" r="6.6"/><circle cx="454.4" cy="713.7" r="6.6"/><circle cx="464.6" cy="716.5" r="6.6"/><circle cx="499.4" cy="711.8" r="6.6"/><circle cx="524.7" cy="715.2" r="6.6"/><circle cx="516.7" cy="722" r="6.6"/><circle cx="480.4" cy="723.9" r="6.6"/><circle cx="473.9" cy="731.3" r="6.6"/><circle cx="494.4" cy="734.1" r="6.6"/><circle cx="489" cy="737" r="6.6"/><circle cx="454.4" cy="744.4" r="6.6"/><circle cx="467.4" cy="744.4" r="6.6"/><circle cx="479.5" cy="744.4" r="6.6"/><circle cx="500" cy="743.4" r="6.6"/><circle cx="537.1" cy="747.5" r="6.6"/><circle cx="517.6" cy="750.9" r="6.6"/><circle cx="494.4" cy="756.4" r="6.6"/><circle cx="533.4" cy="753.7" r="6.6"/><circle cx="481.4" cy="760.5" r="6.6"/><circle cx="509.3" cy="759.5" r="6.6"/><circle cx="452.5" cy="764.2" r="6.6"/><circle cx="463.7" cy="767.9" r="6.6"/><circle cx="506.5" cy="776.3" r="6.6"/><circle cx="472.1" cy="777.2" r="6.6"/><circle cx="530.6" cy="781.8" r="6.6"/><circle cx="466.5" cy="786.5" r="6.6"/><circle cx="503.7" cy="786.5" r="6.6"/><circle cx="521.3" cy="790.6" r="6.6"/><circle cx="447.9" cy="793.9" r="6.6"/><circle cx="502.7" cy="793.9" r="6.6"/><circle cx="515.8" cy="810.3" r="6.6"/><circle cx="464.6" cy="810.7" r="6.6"/><circle cx="475.8" cy="820" r="6.6"/><circle cx="506.5" cy="822.7" r="6.6"/><circle cx="523.2" cy="823.7" r="6.6"/><circle cx="541.8" cy="840.4" r="6.6"/><circle cx="498.1" cy="841.3" r="6.6"/><circle cx="433" cy="849.7" r="6.6"/><circle cx="488.8" cy="848.8" r="6.6"/><circle cx="531.6" cy="849.7" r="6.6"/><circle cx="500" cy="853.4" r="6.6"/><circle cx="470.2" cy="860.9" r="6.6"/><circle cx="488.8" cy="859.9" r="6.6"/><circle cx="444.2" cy="866" r="6.6"/><circle cx="520.4" cy="862.7" r="6.6"/><circle cx="537.1" cy="866" r="6.6"/><circle cx="543.7" cy="868.8" r="6.6"/><circle cx="505.5" cy="860.5" r="6.6"/><circle cx="483.2" cy="867.9" r="6.6"/><circle cx="488.8" cy="870.7" r="6.6"/><circle cx="507.4" cy="871.6" r="6.6"/><circle cx="516.7" cy="873.5" r="6.6"/><circle cx="529.7" cy="878.1" r="6.6"/><circle cx="505.5" cy="880.9" r="6.6"/><circle cx="520.4" cy="882.8" r="6.6"/><circle cx="491.6" cy="884.6" r="6.6"/><circle cx="485.1" cy="888.3" r="6.6"/><circle cx="505.5" cy="893" r="6.6"/><circle cx="537.1" cy="893" r="6.6"/><circle cx="479.5" cy="903.2" r="6.6"/><circle cx="537.1" cy="903.8" r="6.6"/><circle cx="523.8" cy="924.2" r="6.6"/><circle cx="509.8" cy="960.3" r="6.6"/><circle cx="479.5" cy="783" r="6.6"/><circle cx="500" cy="783" r="6.6"/><circle cx="498.1" cy="858.6" r="6.6"/><circle cx="501.8" cy="866" r="6.6"/><circle cx="513" cy="867.9" r="6.6"/><circle cx="524.1" cy="871.6" r="6.6"/><circle cx="498.1" cy="877.2" r="6.6"/><circle cx="509.3" cy="884.6" r="6.6"/><circle cx="494.4" cy="869.8" r="6.6"/></g>
<path clip-path="url(#cb)" d="M403.8 1051H428.3M403.8 1044.6v12.8M428.3 1044.6v12.8M423.9 1075.8H441M423.9 1069.4v12.8M441 1069.4v12.8" fill="none" stroke="#00ffff" stroke-width="1.5"/>
<g fill="none" stroke="#00ffff" stroke-width="1.5"><circle cx="416.2" cy="1051" r="6.0"/><circle cx="432.2" cy="1075.8" r="6.0"/></g>
<path clip-path="url(#cb)" d="M537.3 1036.8H590M537.3 1030.4v12.8M590 1030.4v12.8M516.8 1045.9H580M516.8 1039.5v12.8M580 1039.5v12.8M540 1043.6H600M540 1037.2v12.8M600 1037.2v12.8M560 1033.9H640M560 1027.5v12.8M640 1027.5v12.8M550 1041.8H625M550 1035.4v12.8M625 1035.4v12.8M606 1029.3H647M606 1022.9v12.8M647 1022.9v12.8M570 1039.5H660M570 1033.1v12.8M660 1033.1v12.8M585 1044.1H660M585 1037.7v12.8M660 1037.7v12.8M600 1040.7H690M600 1034.3v12.8M690 1034.3v12.8M590 1046.4H680M590 1040v12.8M680 1040v12.8M620 1031.6H781.8M620 1025.2v12.8M781.8 1025.2v12.8M610 1043H710M610 1036.6v12.8M710 1036.6v12.8M680 1040.7H777.6M680 1034.3v12.8M777.6 1034.3v12.8M522.5 1057.7H640M522.5 1051.3v12.8M640 1051.3v12.8M545 1062.3H650M545 1055.9v12.8M650 1055.9v12.8M570 1057.7H670M570 1051.3v12.8M670 1051.3v12.8M590 1061.8H690M590 1055.4v12.8M690 1055.4v12.8M650 1055H730M650 1048.6v12.8M730 1048.6v12.8M668 1052H745.4M668 1045.6v12.8M745.4 1045.6v12.8M565 1069.5H650M565 1063.1v12.8M650 1063.1v12.8M547.5 1075.5H640M547.5 1069.1v12.8M640 1069.1v12.8M590 1068H828.9M590 1061.6v12.8M828.9 1061.6v12.8M640 1078.2H750M640 1071.8v12.8M750 1071.8v12.8M625 1078.2H862.4M625 1071.8v12.8M862.4 1071.8v12.8M516.8 1088H560M516.8 1081.6v12.8M560 1081.6v12.8M524 1086.1H700M524 1079.7v12.8M700 1079.7v12.8M525 1099.8H625M525 1093.4v12.8M625 1093.4v12.8M560 1097.5H640M560 1091.1v12.8M640 1091.1v12.8M532.7 1114.5H660M532.7 1108.1v12.8M660 1108.1v12.8M560 1112.3H655M560 1105.9v12.8M655 1105.9v12.8M650 1067.4H703M650 1061v12.8M703 1061v12.8M645 1078.2H740M645 1071.8v12.8M740 1071.8v12.8M640 1056.5H735M640 1050.1v12.8M735 1050.1v12.8M660 1055H750M660 1048.6v12.8M750 1048.6v12.8M570 1086H665M570 1079.6v12.8M665 1079.6v12.8M545 1075.1H640M545 1068.7v12.8M640 1068.7v12.8M570 1061.2H660M570 1054.8v12.8M660 1054.8v12.8M585 1061.2H675M585 1054.8v12.8M675 1054.8v12.8" fill="none" stroke="#ff0000" stroke-width="1.5"/>
<g fill="#ff0000"><circle cx="555.5" cy="1036.8" r="6.6"/><circle cx="546.4" cy="1045.9" r="6.6"/><circle cx="568" cy="1043.6" r="6.6"/><circle cx="590.7" cy="1033.9" r="6.6"/><circle cx="586.1" cy="1041.8" r="6.6"/><circle cx="619.1" cy="1029.3" r="6.6"/><circle cx="611.1" cy="1039.5" r="6.6"/><circle cx="619.1" cy="1044.1" r="6.6"/><circle cx="637.3" cy="1040.7" r="6.6"/><circle cx="628.2" cy="1046.4" r="6.6"/><circle cx="658.9" cy="1031.6" r="6.6"/><circle cx="655.5" cy="1043" r="6.6"/><circle cx="725.9" cy="1040.7" r="6.6"/><circle cx="575.9" cy="1057.7" r="6.6"/><circle cx="590.7" cy="1062.3" r="6.6"/><circle cx="616.8" cy="1057.7" r="6.6"/><circle cx="629.8" cy="1061.8" r="6.6"/><circle cx="689.5" cy="1055" r="6.6"/><circle cx="706.6" cy="1052" r="6.6"/><circle cx="603.2" cy="1069.5" r="6.6"/><circle cx="592.3" cy="1075.5" r="6.6"/><circle cx="696.4" cy="1068" r="6.6"/><circle cx="691.8" cy="1078.2" r="6.6"/><circle cx="736.4" cy="1078.2" r="6.6"/><circle cx="538.4" cy="1088" r="6.6"/><circle cx="619.1" cy="1086.1" r="6.6"/><circle cx="573.2" cy="1099.8" r="6.6"/><circle cx="593.6" cy="1097.5" r="6.6"/><circle cx="596.4" cy="1114.5" r="6.6"/><circle cx="605.5" cy="1112.3" r="6.6"/><circle cx="696.9" cy="1067.4" r="6.6"/><circle cx="692.3" cy="1078.2" r="6.6"/><circle cx="689.2" cy="1056.5" r="6.6"/><circle cx="706.2" cy="1055" r="6.6"/><circle cx="617.9" cy="1086" r="6.6"/><circle cx="593.1" cy="1075.1" r="6.6"/><circle cx="616.3" cy="1061.2" r="6.6"/><circle cx="628.7" cy="1061.2" r="6.6"/></g>
<path clip-path="url(#cb)" d="M582.2 916.2H597.1M582.2 909.8v12.8M597.1 909.8v12.8M583.7 978.2H655M583.7 971.8v12.8M655 971.8v12.8M522.7 985.7H552.3M522.7 979.3v12.8M552.3 979.3v12.8M641.4 1024.8H668.6M641.4 1018.4v12.8M668.6 1018.4v12.8M560 1120.2H760M560 1113.8v12.8M760 1113.8v12.8M580 1121.6H886.7M580 1115.2v12.8M886.7 1115.2v12.8M600 1123.8H823.2M600 1117.4v12.8M823.2 1117.4v12.8M575 1130.5H778M575 1124.1v12.8M778 1124.1v12.8M610 1121H770M610 1114.6v12.8M770 1114.6v12.8M620 1121H790M620 1114.6v12.8M790 1114.6v12.8M600 1130.5H784M600 1124.1v12.8M784 1124.1v12.8M640 1131.5H785M640 1125.1v12.8M785 1125.1v12.8M650 1128.8H828.9M650 1122.4v12.8M828.9 1122.4v12.8M660 1127.3H883.5M660 1120.9v12.8M883.5 1120.9v12.8M690 1131.5H780M690 1125.1v12.8M780 1125.1v12.8" fill="none" stroke="#ff0000" stroke-width="1.5"/>
<g fill="none" stroke="#ff0000" stroke-width="1.5"><circle cx="589.3" cy="916.2" r="6.0"/><circle cx="619.2" cy="978.2" r="6.0"/><circle cx="537.6" cy="985.7" r="6.0"/><circle cx="654.8" cy="1024.8" r="6.0"/><circle cx="637.3" cy="1120.2" r="6.0"/><circle cx="646.4" cy="1121.6" r="6.0"/><circle cx="660" cy="1123.8" r="6.0"/><circle cx="660" cy="1130.5" r="6.0"/><circle cx="678" cy="1121" r="6.0"/><circle cx="696" cy="1121" r="6.0"/><circle cx="710" cy="1130.5" r="6.0"/><circle cx="726" cy="1131.5" r="6.0"/><circle cx="737.2" cy="1128.8" r="6.0"/><circle cx="752" cy="1127.3" r="6.0"/><circle cx="766.2" cy="1131.5" r="6.0"/></g>
<polygon points="295.5,1089.2 270.3,1130 320.7,1130" fill="none" stroke="#000" stroke-width="4.3" stroke-linejoin="miter"/><path d="M270.9 1117.4H320.1" fill="none" stroke="#000" stroke-width="4.4"/><path d="M270.9 1111.3v12.2M320.1 1111.3v12.2" fill="none" stroke="#000" stroke-width="3.5"/>
<polygon points="396.2,836.7 371,877.5 421.4,877.5" fill="none" stroke="#000" stroke-width="4.3" stroke-linejoin="miter"/><path d="M389.4 864.9H403.1" fill="none" stroke="#000" stroke-width="4.4"/><path d="M389.4 858.8v12.2M403.1 858.8v12.2" fill="none" stroke="#000" stroke-width="3.5"/>
<polygon points="479.2,775.3 454,816.1 504.4,816.1" fill="none" stroke="#000" stroke-width="4.3" stroke-linejoin="miter"/><path d="M470.6 803.5H487.9" fill="none" stroke="#000" stroke-width="4.4"/><path d="M470.6 797.4v12.2M487.9 797.4v12.2" fill="none" stroke="#000" stroke-width="3.5"/>
<polygon points="636.2,1071.3 611,1112.1 661.4,1112.1" fill="none" stroke="#000" stroke-width="4.3" stroke-linejoin="miter"/><path d="M606.1 1099.5H666.3" fill="none" stroke="#000" stroke-width="4.4"/><path d="M606.1 1093.4v12.2M666.3 1093.4v12.2" fill="none" stroke="#000" stroke-width="3.5"/>
<path clip-path="url(#cb)" d="M485.5 806.9H493.9M485.5 800.5v12.8M493.9 800.5v12.8" fill="none" stroke="#00ffff" stroke-width="1.5"/>
<g fill="#00ffff"><circle cx="489.7" cy="806.9" r="6.6"/></g>
<path clip-path="url(#cb)" d="M388.5 854.3H425.7M388.5 847.9v12.8M425.7 847.9v12.8M331.2 872H372M331.2 865.6v12.8M372 865.6v12.8" fill="none" stroke="#ff00ff" stroke-width="1.5"/>
<g fill="#ff00ff"><circle cx="408" cy="854.3" r="6.6"/><circle cx="352" cy="872" r="6.6"/></g>
<path clip-path="url(#cb)" d="M645.9 1075.9H700M645.9 1069.5v12.8M700 1069.5v12.8M652.7 1080.5H710M652.7 1074.1v12.8M710 1074.1v12.8M675 1096.4H730M675 1090v12.8M730 1090v12.8M675.5 1100.9H740M675.5 1094.5v12.8M740 1094.5v12.8M686.8 1096.4H764.5M686.8 1090v12.8M764.5 1090v12.8M700.5 1091.8H781.1M700.5 1085.4v12.8M781.1 1085.4v12.8M709.5 1100.9H770M709.5 1094.5v12.8M770 1094.5v12.8M706.2 1093H760M706.2 1086.6v12.8M760 1086.6v12.8M738.4 1096.8H783.8M738.4 1090.4v12.8M783.8 1090.4v12.8M650.5 1110H700M650.5 1103.6v12.8M700 1103.6v12.8M664.1 1107.7H720M664.1 1101.3v12.8M720 1101.3v12.8M682.3 1110H740M682.3 1103.6v12.8M740 1103.6v12.8M698.2 1110H760M698.2 1103.6v12.8M760 1103.6v12.8M714.1 1110H785.5M714.1 1103.6v12.8M785.5 1103.6v12.8M720.9 1116.8H775M720.9 1110.4v12.8M775 1110.4v12.8M713.6 1111.7H770M713.6 1105.3v12.8M770 1105.3v12.8M729.7 1116.6H780M729.7 1110.2v12.8M780 1110.2v12.8M639.2 1073.6H690M639.2 1067.2v12.8M690 1067.2v12.8M606 1075.1H705M606 1068.7v12.8M705 1068.7v12.8M612 1081.3H715M612 1074.9v12.8M715 1074.9v12.8M640 1093.7H725M640 1087.3v12.8M725 1087.3v12.8M628 1090.6H735M628 1084.2v12.8M735 1084.2v12.8M687.3 1093.7H745M687.3 1087.3v12.8M745 1087.3v12.8M699.7 1090.6H760M699.7 1084.2v12.8M760 1084.2v12.8M709 1095.3H768M709 1088.9v12.8M768 1088.9v12.8M650.1 1101.5H700M650.1 1095.1v12.8M700 1095.1v12.8M609 1110.8H705M609 1104.4v12.8M705 1104.4v12.8M618 1106.1H715M618 1099.7v12.8M715 1099.7v12.8M671.8 1104.6H725M671.8 1098.2v12.8M725 1098.2v12.8M681.1 1107.7H735M681.1 1101.3v12.8M735 1101.3v12.8M690.4 1106.1H745M690.4 1099.7v12.8M745 1099.7v12.8M699.7 1107.7H755M699.7 1101.3v12.8M755 1101.3v12.8M709 1109.2H765M709 1102.8v12.8M765 1102.8v12.8M622 1115.4H720M622 1109v12.8M720 1109v12.8M678 1117H730M678 1110.6v12.8M730 1110.6v12.8M690.4 1117H745M690.4 1110.6v12.8M745 1110.6v12.8M702.8 1117H760M702.8 1110.6v12.8M760 1110.6v12.8M715.2 1118.5H770M715.2 1112.1v12.8M770 1112.1v12.8" fill="none" stroke="#ff0000" stroke-width="1.5"/>
<g fill="#ff0000"><circle cx="650.9" cy="1075.9" r="6.6"/><circle cx="657.7" cy="1080.5" r="6.6"/><circle cx="680" cy="1096.4" r="6.6"/><circle cx="680.5" cy="1100.9" r="6.6"/><circle cx="691.8" cy="1096.4" r="6.6"/><circle cx="705.5" cy="1091.8" r="6.6"/><circle cx="714.5" cy="1100.9" r="6.6"/><circle cx="711.2" cy="1093" r="6.6"/><circle cx="743.4" cy="1096.8" r="6.6"/><circle cx="655.5" cy="1110" r="6.6"/><circle cx="669.1" cy="1107.7" r="6.6"/><circle cx="687.3" cy="1110" r="6.6"/><circle cx="703.2" cy="1110" r="6.6"/><circle cx="719.1" cy="1110" r="6.6"/><circle cx="725.9" cy="1116.8" r="6.6"/><circle cx="718.6" cy="1111.7" r="6.6"/><circle cx="734.7" cy="1116.6" r="6.6"/><circle cx="644.2" cy="1073.6" r="6.6"/><circle cx="655.1" cy="1075.1" r="6.6"/><circle cx="662.8" cy="1081.3" r="6.6"/><circle cx="673.7" cy="1093.7" r="6.6"/><circle cx="683" cy="1090.6" r="6.6"/><circle cx="692.3" cy="1093.7" r="6.6"/><circle cx="704.7" cy="1090.6" r="6.6"/><circle cx="714" cy="1095.3" r="6.6"/><circle cx="655.1" cy="1101.5" r="6.6"/><circle cx="658.2" cy="1110.8" r="6.6"/><circle cx="667.5" cy="1106.1" r="6.6"/><circle cx="676.8" cy="1104.6" r="6.6"/><circle cx="686.1" cy="1107.7" r="6.6"/><circle cx="695.4" cy="1106.1" r="6.6"/><circle cx="704.7" cy="1107.7" r="6.6"/><circle cx="714" cy="1109.2" r="6.6"/><circle cx="670.6" cy="1115.4" r="6.6"/><circle cx="683" cy="1117" r="6.6"/><circle cx="695.4" cy="1117" r="6.6"/><circle cx="707.8" cy="1117" r="6.6"/><circle cx="720.2" cy="1118.5" r="6.6"/></g>
<circle cx="901" cy="1128.5" r="6.3" fill="#000"/>
<path d="M882.1 1128.8H914.9M882.1 1121.4v9.4M914.9 1122.5v8.3M901 1125.5v5.5" fill="none" stroke="#ff0000" stroke-width="1.5"/>
<rect x="180.3" y="630.9" width="748.4" height="501" fill="none" stroke="#000" stroke-width="2.1"/>
<text transform="translate(185.6 1187) scale(1 1.06)" text-anchor="middle">0</text>
<text transform="translate(335.9 1187) scale(1 1.06)" text-anchor="middle">0.5</text>
<text transform="translate(484.7 1187) scale(1 1.06)" text-anchor="middle">1</text>
<text transform="translate(635 1187) scale(1 1.06)" text-anchor="middle">1.5</text>
<text transform="translate(785.6 1187) scale(1 1.06)" text-anchor="middle">2</text>
<text transform="translate(934.6 1187) scale(1 1.06)" text-anchor="middle">2.5</text>
<text transform="translate(156.3 983.6) scale(1 1.06)" text-anchor="end">0.5</text>
<text transform="translate(155.5 817.6) scale(1 1.06)" text-anchor="end">1</text>
<text transform="translate(156.3 651.6) scale(1 1.06)" text-anchor="end">1.5</text>
<g transform="translate(43.9 1033.7) rotate(-90)"><text class="al" transform="scale(1 1.06)">Mass (M</text><text x="187.8" y="14.5" style="font-size:38.5px">earth</text><text class="al" x="277" transform="scale(1 1.06)">)</text></g>
<text class="al" transform="translate(554.3 1248.7) scale(0.992 1.06)" text-anchor="middle">Semimajor axis (au)</text>
</g>
</svg></body></html>
